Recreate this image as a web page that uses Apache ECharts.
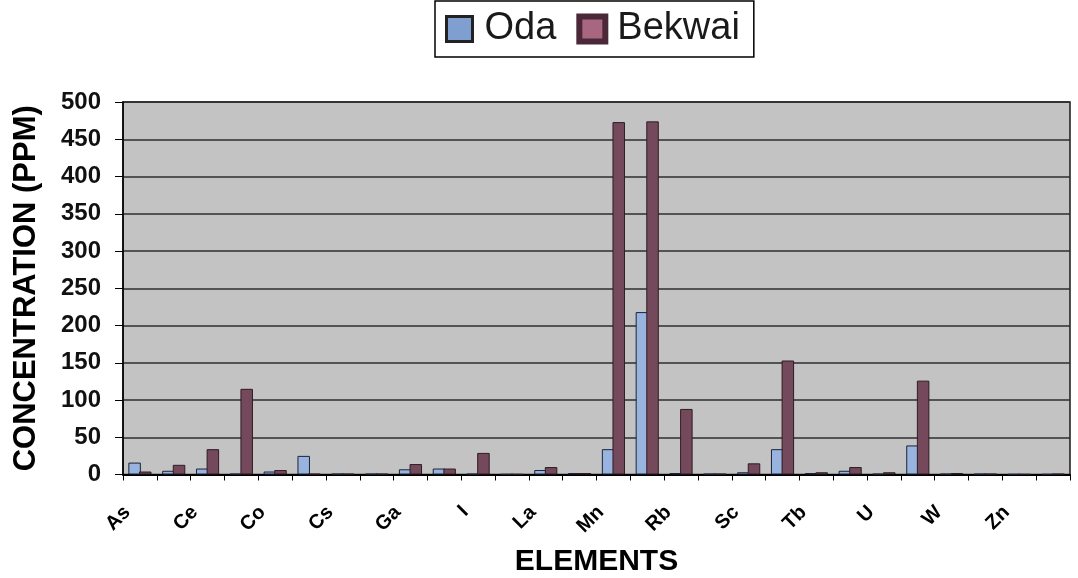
<!DOCTYPE html>
<html>
<head>
<meta charset="utf-8">
<title>Element concentrations: Oda vs Bekwai</title>
<script src="https://cdn.jsdelivr.net/npm/echarts@6/dist/echarts.min.js"></script>
<style>
  html, body { margin: 0; padding: 0; background: #ffffff; }
  #chart { width: 1078px; height: 578px; }
</style>
</head>
<body>
<div id="chart"></div>
<script>
// Elements on the category axis; only every other one carries a label.
const elements = ['As', '', 'Ce', '', 'Co', '', 'Cs', '', 'Ga', '', 'I', '', 'La', '', 'Mn', '', 'Rb', '', 'Sc', '', 'Tb', '', 'U', '', 'W', '', 'Zn', ''];

// Concentrations in ppm
const oda    = [16, 5, 8, 1, 4, 25, 1, 1, 7, 8, 1, 0.5, 6, 2, 34, 218, 2, 1, 3, 34, 2, 5, 1, 39, 1, 1, 0.5, 0.5];
const bekwai = [4, 13, 34, 115, 6, 1, 1, 1, 14, 8, 29, 0.5, 10, 2, 473, 474, 88, 1, 15, 153, 3, 10, 3, 126, 2, 1, 0.5, 1];

const yTicks = { min: 0, max: 500, step: 50 };

const FONT = 'Arial, "Liberation Sans", sans-serif';

const chart = echarts.init(document.getElementById('chart'), null, { renderer: 'canvas' });

chart.setOption({
  animation: false,
  backgroundColor: '#ffffff',
  textStyle: { fontFamily: FONT },
  legend: {
    left: 435,
    top: 1,
    orient: 'horizontal',
    padding: [9, 14, 9, 10],
    itemGap: 20,
    itemWidth: 26,
    itemHeight: 25,
    icon: 'rect',
    backgroundColor: '#ffffff',
    borderColor: '#000000',
    borderWidth: 1.5,
    borderRadius: 0,
    textStyle: { fontSize: 38, color: '#1a1a1a', fontFamily: FONT, padding: [0, 0, 0, 7] },
    data: [
      { name: 'Oda', itemStyle: { color: '#7f9fd0', borderColor: '#222222', borderWidth: 3 } },
      { name: 'Bekwai', itemStyle: { color: '#a8667f', borderColor: '#4a2838', borderWidth: 6 } }
    ]
  },
  grid: {
    left: 123,
    right: 8,
    top: 102,
    bottom: 103.5,
    containLabel: false,
    outerBoundsMode: 'none',
    show: true,
    backgroundColor: '#c3c3c3',
    borderColor: '#1a1a1a',
    borderWidth: 1.5
  },
  xAxis: {
    type: 'category',
    data: elements,
    boundaryGap: true,
    axisLine: { show: true, lineStyle: { color: '#000000', width: 2 } },
    axisTick: { show: true, interval: 0, length: 6, alignWithLabel: false, lineStyle: { color: '#000000', width: 1 } },
    axisLabel: {
      interval: 1,
      rotate: 45,
      fontSize: 20,
      fontWeight: 'bold',
      color: '#000000',
      fontFamily: FONT,
      margin: 22,
      padding: [0, 18, 0, 0]
    },
    splitLine: { show: false },
    name: 'ELEMENTS',
    nameLocation: 'middle',
    nameGap: 72,
    nameMoveOverlap: false,
    nameTextStyle: { fontSize: 30, fontWeight: 'bold', color: '#000000', fontFamily: FONT }
  },
  yAxis: {
    type: 'value',
    min: yTicks.min,
    max: yTicks.max,
    interval: yTicks.step,
    axisLine: { show: true, lineStyle: { color: '#000000', width: 1.5 } },
    axisTick: { show: true, length: 8, lineStyle: { color: '#000000', width: 1 } },
    axisLabel: { fontSize: 24, fontWeight: 'bold', color: '#111111', fontFamily: FONT, margin: 22 },
    splitLine: { show: true, lineStyle: { color: '#2e2e2e', width: 1.5 } },
    name: 'CONCENTRATION (PPM)',
    nameLocation: 'middle',
    nameGap: 81,
    nameMoveOverlap: false,
    nameTextStyle: { fontSize: 31, fontWeight: 'bold', color: '#000000', fontFamily: FONT }
  },
  series: [
    {
      name: 'Oda',
      type: 'bar',
      data: oda,
      barWidth: 12.5,
      barGap: '-15%',
      itemStyle: { color: '#98b3de', borderColor: '#1c2338', borderWidth: 1 }
    },
    {
      name: 'Bekwai',
      type: 'bar',
      data: bekwai,
      barWidth: 12.5,
      itemStyle: { color: '#74495b', borderColor: '#2e1c24', borderWidth: 1 }
    }
  ]
});
</script>
</body>
</html>
